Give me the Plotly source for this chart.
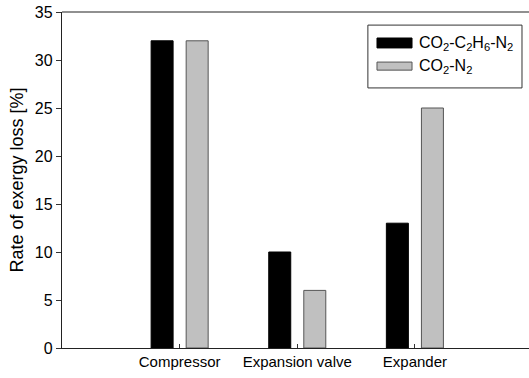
import plotly.graph_objects as go

categories = ["Compressor", "Expansion valve", "Expander"]
series_a_name = "CO<sub>2</sub>-C<sub>2</sub>H<sub>6</sub>-N<sub>2</sub>"
series_b_name = "CO<sub>2</sub>-N<sub>2</sub>"
series_a = [32, 10, 13]
series_b = [32, 6, 25]
y_title = "Rate of exergy loss [%]"

FONT = "Liberation Sans, Arial, Helvetica, sans-serif"
BW = 0.187
HALF = 0.149

fig = go.Figure()
fig.add_trace(go.Bar(x=categories, y=series_a, name=series_a_name, width=BW,
                     offset=-HALF - BW / 2, marker=dict(color="#000000", line=dict(color="#000000", width=1)),
                     showlegend=False))
fig.add_trace(go.Bar(x=categories, y=series_b, name=series_b_name, width=BW,
                     offset=HALF - BW / 2, marker=dict(color="#c0c0c0", line=dict(color="#555555", width=1)),
                     showlegend=False))

# top frame line and manual legend
shapes = [
    dict(type="line", xref="paper", yref="paper", x0=0, x1=1, y0=1, y1=1,
         line=dict(color="#222222", width=1.2)),
    dict(type="rect", xref="paper", yref="paper", x0=0.655, x1=0.985, y0=0.774, y1=0.961,
         line=dict(color="#333333", width=1), fillcolor="white"),
    dict(type="rect", xref="paper", yref="paper", x0=0.6745, x1=0.7495, y0=0.893, y1=0.9226,
         line=dict(color="#000000", width=1), fillcolor="#000000"),
    dict(type="rect", xref="paper", yref="paper", x0=0.6745, x1=0.7495, y0=0.827, y1=0.851,
         line=dict(color="#555555", width=1), fillcolor="#c0c0c0"),
]
annotations = [
    dict(xref="paper", yref="paper", x=0.760, y=0.9077, text=series_a_name, showarrow=False,
         xanchor="left", yanchor="middle", font=dict(family=FONT, size=16, color="black")),
    dict(xref="paper", yref="paper", x=0.760, y=0.839, text=series_b_name, showarrow=False,
         xanchor="left", yanchor="middle", font=dict(family=FONT, size=16, color="black")),
]

fig.update_layout(
    template="none",
    width=529, height=378,
    margin=dict(l=62, r=0, t=12, b=30),
    paper_bgcolor="white", plot_bgcolor="white",
    font=dict(family=FONT, size=15, color="black"),
    barmode="overlay",
    shapes=shapes, annotations=annotations,
    xaxis=dict(type="category", range=[-1, 2.97], showline=True, linecolor="#222222", linewidth=1.2,
               mirror=False, ticks="inside", ticklen=4, tickcolor="#333333", showgrid=False,
               tickfont=dict(family=FONT, size=15, color="black"), zeroline=False),
    yaxis=dict(range=[0, 35], dtick=5, showline=True, linecolor="#222222", linewidth=1.2,
               mirror=False, ticks="outside", ticklen=5, tickcolor="#333333", showgrid=False,
               zeroline=False, tickfont=dict(family=FONT, size=16, color="black"),
               title=dict(text=y_title, font=dict(family=FONT, size=18, color="black"), standoff=6)),
)

fig.write_html("out.html", config={"displayModeBar": False, "staticPlot": True})
